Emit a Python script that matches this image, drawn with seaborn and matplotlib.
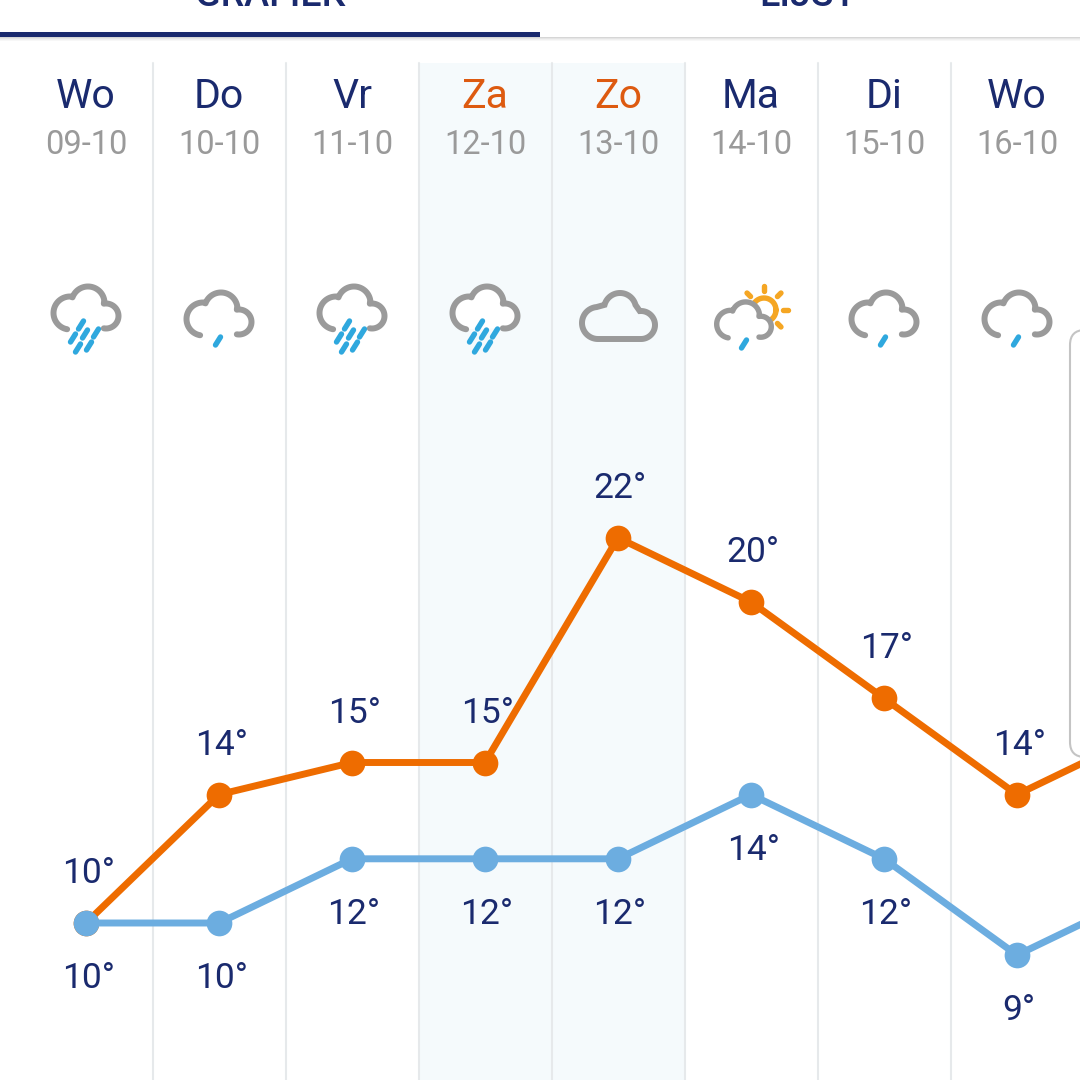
"""
Weather forecast screen: daily high / low temperatures with day columns.
"""

import matplotlib.pyplot as plt
import numpy as np
import pandas as pd
import seaborn as sns
from matplotlib.patches import FancyBboxPatch, Polygon, Rectangle

days = ["Wo", "Do", "Vr", "Za", "Zo", "Ma", "Di", "Wo", "Do"]
dates = ["09-10", "10-10", "11-10", "12-10", "13-10", "14-10", "15-10", "16-10", "17-10"]
highs = [10, 14, 15, 15, 22, 20, 17, 14, 16]
lows = [10, 10, 12, 12, 12, 14, 12, 9, 11]
weather = ["heavy", "light", "heavy", "heavy", "cloud", "sun", "light", "light", "light"]
weekend = ["Za", "Zo"]
tabs = ["GRAFIEK", "LIJST"]

NAVY = "#1a2a6e"
ORANGE = "#ee6c00"
BLUE = "#6cade0"
GREY = "#9a9a9a"
RAIN = "#2fa8de"
SUN = "#f5a623"

COL_W = 133
X0 = 86
PX_PER_DEG = 32.1
Y10 = 923


def arc(cx, cy, r, a0, a1):
    """Arc points in pixel space, angles in degrees (screen, y down)."""
    t = np.radians(np.linspace(a0, a1, 40))
    return np.column_stack([cx + r * np.cos(t), cy + r * np.sin(t)])


def cloud_outline():
    """Open cloud outline around (0, 0), from lower left round to lower right."""
    return np.vstack([
        arc(-16, 5, 16.5, 100, 275),
        arc(2, -5, 16.5, 200, 350),
        arc(20, 8, 12.5, -100, 100),
    ])


def draw_drops(ax, cx, cy, drops):
    for dx, dy in drops:
        ax.plot(
            [cx + dx - 2.5, cx + dx + 2.5], [cy + dy + 4, cy + dy - 4],
            color=RAIN, lw=3.9, solid_capstyle="round", zorder=4,
        )


def draw_cloud(ax, cx, cy, scale=1.0, fill="white"):
    pts = cloud_outline() * scale + [cx, cy]
    ax.add_patch(Polygon(pts, closed=True, fc=fill, ec="none", zorder=3))
    ax.plot(pts[:, 0], pts[:, 1], color=GREY, lw=4.3 * (0.4 + 0.6 * scale),
            solid_capstyle="round", zorder=3.5)


def draw_icon(ax, kind, cx):
    if kind == "heavy":
        draw_cloud(ax, cx, 308)
        draw_drops(ax, cx, 308, [(-5, 17), (-1, 26), (10, 25), (-13, 30), (3, 38), (-8, 40)])
    elif kind == "light":
        draw_cloud(ax, cx, 314)
        draw_drops(ax, cx, 314, [(-1, 27)])
    elif kind == "cloud":
        pts = np.vstack([
            arc(cx - 20, 323, 16, 90, 265),
            arc(cx + 2, 309, 16, 195, 345),
            arc(cx + 23, 325, 14, -95, 90),
        ])
        ax.add_patch(Polygon(pts, closed=True, fc="none", ec=GREY, lw=4.3, zorder=3.5))
    elif kind == "sun":
        sx, sy = cx + 13, 310
        ring = arc(sx, sy, 12, 0, 360)
        ax.plot(ring[:, 0], ring[:, 1], color=SUN, lw=3.9, zorder=2.5)
        for ang in [-135, -90, -45, 0, 45]:
            t = np.radians(ang)
            ax.plot(
                [sx + 19 * np.cos(t), sx + 24 * np.cos(t)],
                [sy + 19 * np.sin(t), sy + 24 * np.sin(t)],
                color=SUN, lw=3.9, solid_capstyle="round", zorder=2.5,
            )
        draw_cloud(ax, cx - 7, 320, scale=0.84)
        draw_drops(ax, cx - 7, 320, [(0, 24)])


sns.set_theme(style="white")
plt.rcParams["font.family"] = ["Roboto", "DejaVu Sans"]

fig = plt.figure(figsize=(10.8, 10.8), dpi=100, facecolor="white")

# screen furniture, in pixels
ui = fig.add_axes([0, 0, 1, 1], zorder=1)
ui.set_xlim(0, 1080)
ui.set_ylim(1080, 0)
ui.axis("off")

centers = [X0 + COL_W * i for i in range(len(days))]

for i, day in enumerate(days[:8]):
    left = centers[i] - COL_W / 2
    if day in weekend:
        ui.add_patch(Rectangle((left, 63), COL_W, 1017, fc="#f5fafc", ec="none", zorder=0))
    if i > 0:
        ui.plot([left, left], [63, 1080], color="#e6e9eb", lw=1.5, zorder=1)
    ui.text(centers[i], 96, day, ha="center", va="center", fontsize=29.5,
            color="#dd5a10" if day in weekend else NAVY)
    ui.text(centers[i], 144.5, dates[i], ha="center", va="center", fontsize=23.5, color=GREY)
    draw_icon(ui, weather[i], centers[i])

for k, alpha in enumerate([0.16, 0.10, 0.06, 0.03]):
    ui.add_patch(Rectangle((0, 37 + k), 1080, 1, fc="black", ec="none", alpha=alpha, zorder=1))
ui.add_patch(Rectangle((0, 32), 540, 5, fc=NAVY, ec="none", zorder=2))
ui.text(270, 6, tabs[0], ha="center", va="baseline", fontsize=27, fontweight="medium", color=NAVY)
ui.text(808, 6, tabs[1], ha="center", va="baseline", fontsize=27, fontweight="medium", color=NAVY)

ui.add_patch(FancyBboxPatch(
    (1085, 345), 60, 397, boxstyle="round,pad=15,rounding_size=15",
    fc="white", ec="#c4c4c4", lw=1.5, zorder=2,
))

# temperature chart, sharing the pixels of the screen
df = pd.DataFrame({"pos": range(len(days)), "high": highs, "low": lows})

ax = fig.add_axes([0, 0, 1, 1], zorder=2)
ax.patch.set_alpha(0)
ax.set_xlim(-X0 / COL_W, (1080 - X0) / COL_W)
ax.set_ylim(10 - (1080 - Y10) / PX_PER_DEG, 10 + Y10 / PX_PER_DEG)
ax.axis("off")

for col, color in [("high", ORANGE), ("low", BLUE)]:
    sns.lineplot(
        data=df, x="pos", y=col, ax=ax, color=color, lw=5, marker="o",
        markersize=18.5, markeredgewidth=0, errorbar=None, sort=False, zorder=3,
    )

for x, hi, lo in zip(df["pos"], highs, lows):
    ax.annotate(f"{hi}°", (x, hi), xytext=(1.5, 35.5), textcoords="offset points",
                ha="center", va="center", fontsize=25.5, color=NAVY, zorder=2)
    ax.annotate(f"{lo}°", (x, lo), xytext=(1.5, -40), textcoords="offset points",
                ha="center", va="center", fontsize=25.5, color=NAVY, zorder=2)

fig.savefig("out.png", dpi=100)
plt.close(fig)
